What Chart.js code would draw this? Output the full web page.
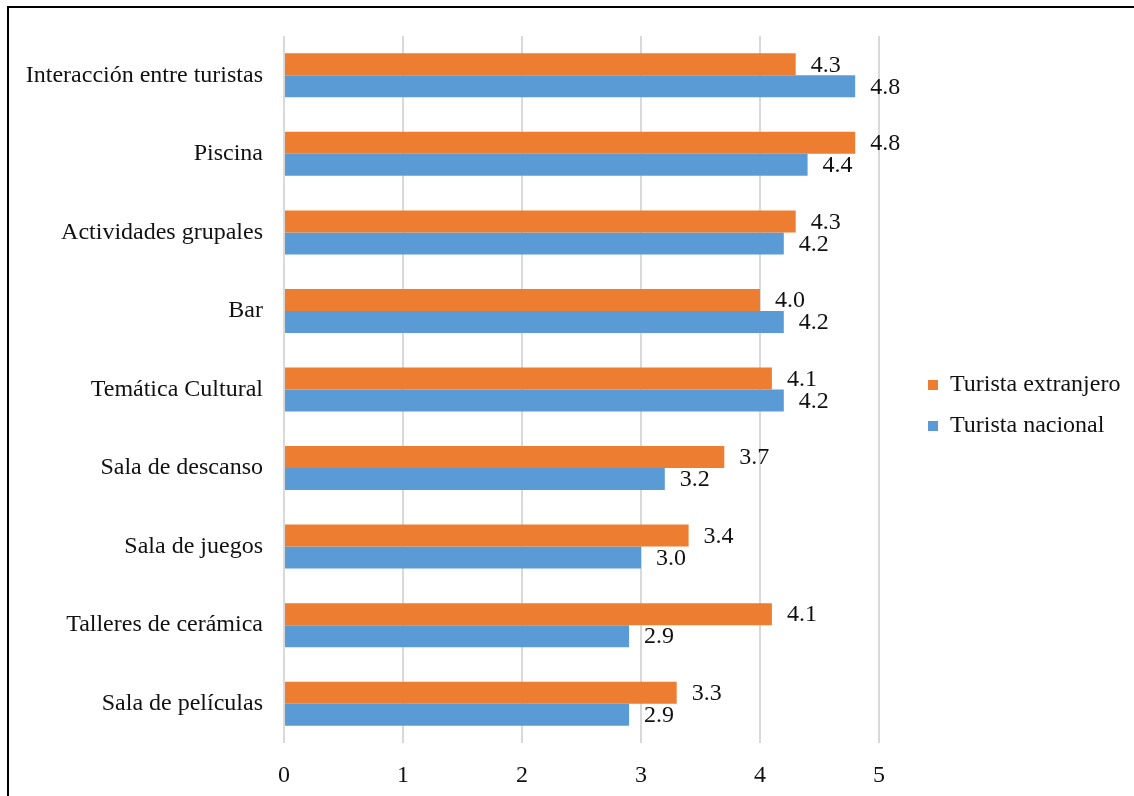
<!DOCTYPE html>
<html>
<head>
<meta charset="utf-8">
<script src="https://cdn.jsdelivr.net/npm/chart.js@4.4.1/dist/chart.umd.min.js"></script>
<style>
  html, body { margin: 0; padding: 0; background: #fff; }
  #wrap { position: relative; width: 1134px; height: 796px; overflow: hidden; }
  #frame { position: absolute; left: 7px; top: 6px; width: 1200px; height: 900px;
           border-left: 2px solid #000; border-top: 2px solid #000; pointer-events: none; }
  canvas { position: absolute; left: 0; top: 0; }
</style>
</head>
<body>
<div id="wrap">
  <canvas id="chart" width="1134" height="796"></canvas>
  <div id="frame"></div>
</div>
<script>
// Valoración de servicios por tipo de turista (escala 0–5)
const categories = [
  'Interacción entre turistas',
  'Piscina',
  'Actividades grupales',
  'Bar',
  'Temática Cultural',
  'Sala de descanso',
  'Sala de juegos',
  'Talleres de cerámica',
  'Sala de películas'
];
const extranjero = [4.3, 4.8, 4.3, 4.0, 4.1, 3.7, 3.4, 4.1, 3.3];
const nacional   = [4.8, 4.4, 4.2, 4.2, 4.2, 3.2, 3.0, 2.9, 2.9];
const xTicks = [0, 1, 2, 3, 4, 5];

const FONT = "'Liberation Serif', 'Times New Roman', serif";
const TEXT = '#111';
const FS = 24;

// Writes each bar's value just past its end
const valueLabels = {
  id: 'valueLabels',
  afterDatasetsDraw(chart) {
    const ctx = chart.ctx;
    ctx.save();
    ctx.font = FS + 'px ' + FONT;
    ctx.fillStyle = TEXT;
    ctx.textAlign = 'left';
    ctx.textBaseline = 'middle';
    chart.data.datasets.forEach((ds, di) => {
      const meta = chart.getDatasetMeta(di);
      meta.data.forEach((bar, i) => {
        ctx.fillText(ds.data[i].toFixed(1), bar.x + 15, bar.y + 1);
      });
    });
    ctx.restore();
  }
};

// Fixed-width legend column, with its entries set a little away from the plot
const legendPlacement = {
  id: 'legendPlacement',
  beforeLayout(chart) {
    const lg = chart.legend;
    if (lg && !lg._fixedFit) {
      const fit = lg.fit.bind(lg);
      lg.fit = function () { fit(); this.width = 255; };
      lg._fixedFit = true;
    }
  },
  afterLayout(chart) {
    const lg = chart.legend;
    if (!lg) return;
    lg.left += 32; lg.right += 32;
    lg.top -= 6; lg.bottom -= 6;
  }
};

new Chart(document.getElementById('chart'), {
  type: 'bar',
  data: {
    labels: categories,
    datasets: [
      { label: 'Turista extranjero', data: extranjero, backgroundColor: '#ED7D31',
        barPercentage: 1, categoryPercentage: 0.56 },
      { label: 'Turista nacional', data: nacional, backgroundColor: '#5B9BD5',
        barPercentage: 1, categoryPercentage: 0.56 }
    ]
  },
  options: {
    indexAxis: 'y',
    responsive: false,
    animation: false,
    layout: { padding: { top: 36, bottom: 9, left: 20, right: 0 } },
    plugins: {
      tooltip: { enabled: false },
      legend: {
        position: 'right',
        labels: {
          boxWidth: 10, boxHeight: 10, padding: 17,
          color: TEXT, font: { family: FONT, size: FS }
        }
      }
    },
    scales: {
      x: {
        min: 0, max: 5,
        afterBuildTicks(scale) { scale.ticks = xTicks.map(v => ({ value: v })); },
        afterFit(scale) { scale.height = 44; },
        grid: { color: '#d9d9d9', lineWidth: 2, drawTicks: false },
        border: { display: false },
        ticks: { padding: 18, color: TEXT, font: { family: FONT, size: FS } }
      },
      y: {
        afterFit(scale) { scale.width = 264; },
        grid: { display: false, drawTicks: false },
        border: { display: false },
        ticks: { padding: 21, color: TEXT, font: { family: FONT, size: FS } }
      }
    }
  },
  plugins: [valueLabels, legendPlacement]
});
</script>
</body>
</html>
